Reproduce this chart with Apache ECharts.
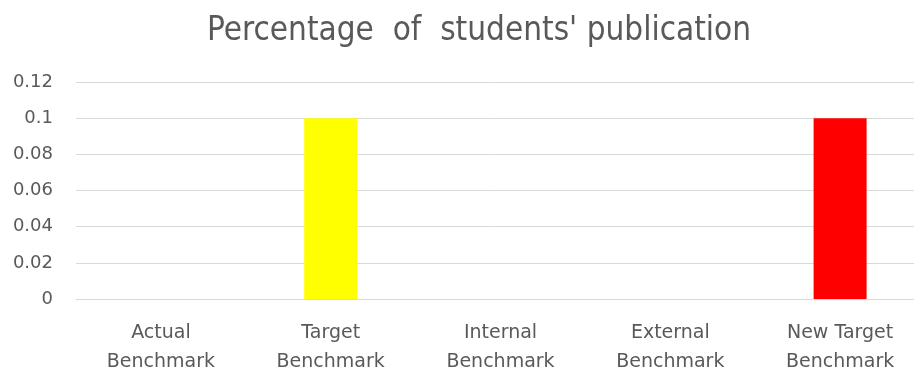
<!DOCTYPE html>
<html>
<head>
<meta charset="utf-8">
<script src="https://cdn.jsdelivr.net/npm/echarts@6/dist/echarts.min.js"></script>
<style>
  html, body { margin: 0; padding: 0; background: #fff; }
  #chart { width: 914px; height: 368px; }
</style>
</head>
<body>
<div id="chart"></div>
<script>
// Benchmark categories along the x axis
const categories = [
  'Actual\nBenchmark',
  'Target\nBenchmark',
  'Internal\nBenchmark',
  'External\nBenchmark',
  'New Target\nBenchmark'
];
// Share of students' publications per benchmark
const values = [0, 0.1, 0, 0, 0.1];
const barColors = ['#4472c4', '#ffff00', '#4472c4', '#4472c4', '#ff0000'];
// Y axis tick values
const yTicks = [0, 0.02, 0.04, 0.06, 0.08, 0.1, 0.12];

const textColor = '#595959';
const chart = echarts.init(document.getElementById('chart'), null, { renderer: 'canvas' });

chart.setOption({
  animation: false,
  backgroundColor: '#ffffff',
  title: {
    text: "Percentage  of  students' publication",
    left: 202,
    top: 10,
    textStyle: {
      fontFamily: 'DejaVu Sans Condensed',
      fontWeight: 'normal',
      fontSize: 33,
      color: textColor
    }
  },
  // the plot runs slightly past the right edge of the canvas
  grid: {
    left: 76, width: 849, top: 82, bottom: 69,
    containLabel: false,
    outerBoundsMode: 'none'
  },
  xAxis: {
    type: 'category',
    data: categories,
    axisLine: { lineStyle: { color: '#d9d9d9', width: 1 } },
    axisTick: { show: false },
    axisLabel: {
      interval: 0,
      margin: 20,
      lineHeight: 29,
      fontFamily: 'DejaVu Sans',
      fontSize: 19,
      color: textColor
    }
  },
  yAxis: {
    type: 'value',
    min: yTicks[0],
    max: yTicks[yTicks.length - 1],
    interval: 0.02,
    axisLine: { show: false },
    axisTick: { show: false },
    splitLine: { lineStyle: { color: '#d9d9d9', width: 1 } },
    axisLabel: {
      margin: 23,
      fontFamily: 'DejaVu Sans',
      fontSize: 18,
      color: textColor,
      formatter: v => String(Math.round(v * 100) / 100)
    }
  },
  series: [{
    type: 'bar',
    data: values.map((v, i) => ({ value: v, itemStyle: { color: barColors[i] } })),
    barWidth: 53
  }]
});
</script>
</body>
</html>
